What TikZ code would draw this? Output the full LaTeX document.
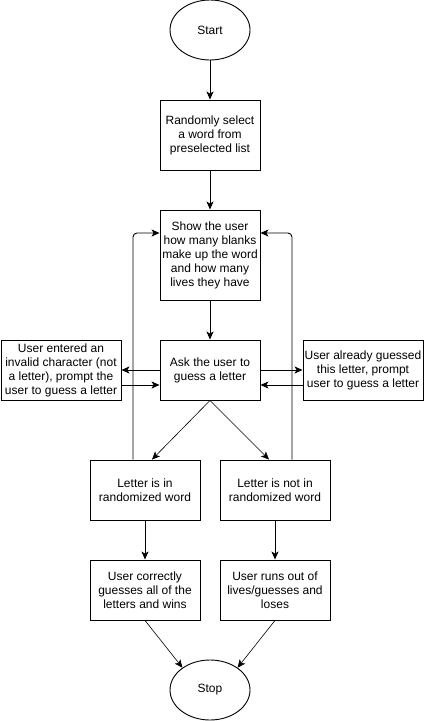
\documentclass[tikz,border=0pt]{standalone}
\usepackage{fontspec}
\setmainfont{Liberation Sans}
\usetikzlibrary{shapes.geometric,arrows.meta}
\begin{document}
\begin{tikzpicture}[x=1pt,y=-1pt,
  every node/.style={font=\fontsize{12}{14}\selectfont, align=center, inner sep=0pt},
  box/.style={draw, line width=0.9pt, rectangle, minimum width=#1},
  oval/.style={draw, line width=0.9pt, ellipse, minimum width=80pt, minimum height=60pt},
  conn/.style={line width=0.9pt, -{Stealth[length=8pt,width=7pt,inset=2pt]}},
  thin conn/.style={line width=0.6pt, -{Stealth[length=8pt,width=7pt,inset=2pt]}}
]
\useasboundingbox (0,0) rectangle (424,721);
\node[oval] (start) at (210,30) {Start};
\node[box=100pt, minimum height=70pt] (rand) at (210,135) {Randomly select\\a word from\\preselected list};
\node[box=100pt, minimum height=90pt] (show) at (210,255) {Show the user\\how many blanks\\make up the word\\and how many\\lives they have};
\node[box=100pt, minimum height=60pt] (ask) at (210,370) {Ask the user to\\guess a letter};
\node[box=120pt, minimum height=60pt] (inv) at (61,370) {User entered an\\invalid character (not\\a letter), prompt the\\user to guess a letter};
\node[box=120pt, minimum height=60pt] (alr) at (363,370) {User already guessed\\this letter, prompt\\user to guess a letter};
\node[box=110pt, minimum height=60pt] (in) at (145,490) {Letter is in\\randomized word};
\node[box=110pt, minimum height=60pt] (notin) at (275,490) {Letter is not in\\randomized word};
\node[box=110pt, minimum height=60pt] (win) at (145,590) {User correctly\\guesses all of the\\letters and wins};
\node[box=110pt, minimum height=60pt] (lose) at (275,590) {User runs out of\\lives/guesses and\\loses};
\node[oval] (stop) at (210,690) {Stop};

\draw[conn] (start) -- (rand);
\draw[conn] (rand) -- (show);
\draw[conn] (show) -- (ask);
\draw[conn] (ask.west) -- (inv.east);
\draw[conn] ([yshift=-15pt]inv.east) -- ([yshift=-15pt]ask.west);
\draw[conn] (ask.east) -- (alr.west);
\draw[conn] ([yshift=-15pt]alr.west) -- ([yshift=-15pt]ask.east);
\draw[thin conn] (ask.south) -- ([xshift=7pt]in.north);
\draw[thin conn] (ask.south) -- ([xshift=-6pt]notin.north);
\draw[conn, rounded corners=4pt] ([xshift=-12pt]in.north) |- ([yshift=22pt]show.west);
\draw[conn, rounded corners=4pt] ([xshift=17pt]notin.north) |- ([yshift=22pt]show.east);
\draw[conn] (in) -- (win);
\draw[conn] (notin) -- (lose);
\draw[thin conn] (win.south) -- (stop.141);
\draw[thin conn] (lose.south) -- (stop.39);
\end{tikzpicture}
\end{document}
